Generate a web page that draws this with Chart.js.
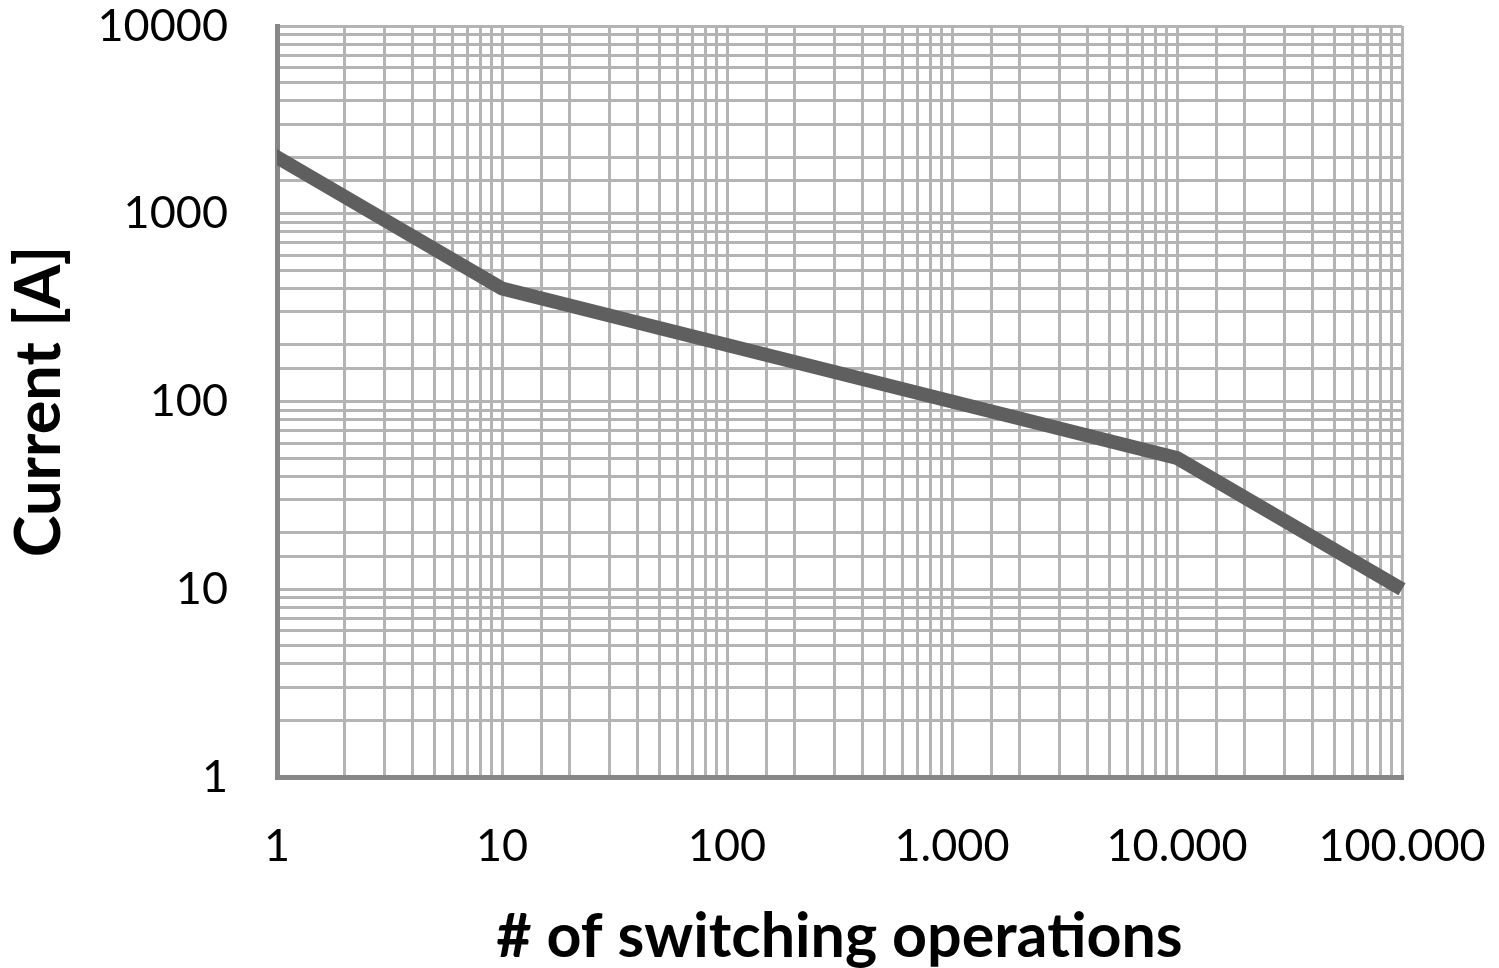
<!DOCTYPE html>
<html>
<head>
<meta charset="utf-8">
<script src="https://cdn.jsdelivr.net/npm/chart.js@4/dist/chart.umd.min.js"></script>
<style>
  html, body { margin: 0; padding: 0; background: #ffffff; }
  #wrap { position: relative; width: 1499px; height: 968px; }
</style>
</head>
<body>
<div id="wrap"><canvas id="c" width="1499" height="968"></canvas></div>
<script>
// Switching operations (x) and current in A (y); first/last points lie outside the axis range and get clipped
const switchingOps = [0.5, 1, 10, 10000, 100000, 180000];
const currentA     = [3250, 2000, 400, 50, 10, 1];
const xTickLabels = { 1: '1', 10: '10', 100: '100', 1000: '1.000', 10000: '10.000', 100000: '100.000' };
const yTickLabels = { 1: '1', 10: '10', 100: '100', 1000: '1000', 10000: '10000' };
const xTitle = '# of switching operations';
const yTitle = 'Current [A]';

const points = switchingOps.map((x, i) => ({ x: x, y: currentA[i] }));

new Chart(document.getElementById('c'), {
  type: 'line',
  data: {
    datasets: [{
      data: points,
      borderColor: '#5f5f5f',
      borderWidth: 14,
      pointRadius: 0,
      tension: 0,
      fill: false,
      clip: { left: 0, top: 0, right: 6, bottom: 0 }
    }]
  },
  options: {
    responsive: false,
    animation: false,
    layout: { padding: { left: 0, right: 97, top: 26, bottom: 0 } },
    plugins: { legend: { display: false }, tooltip: { enabled: false } },
    scales: {
      x: {
        type: 'logarithmic',
        min: 1, max: 100000,
        grid: { color: '#b4b4b4', lineWidth: 3, drawTicks: false },
        border: { color: '#878787', width: 5 },
        ticks: {
          autoSkip: false, maxRotation: 0, padding: 42,
          color: '#000000',
          font: { family: 'Lato', size: 45 },
          callback: (v) => xTickLabels[v] !== undefined ? xTickLabels[v] : ''
        },
        title: {
          display: true, text: xTitle, color: '#000000',
          font: { family: 'Lato', size: 61, weight: 'bold' },
          padding: { top: 0, bottom: -6 }
        },
        afterFit: (s) => { s.height = 968 - 777; s.paddingLeft = 0; s.paddingRight = 0; }
      },
      y: {
        type: 'logarithmic',
        min: 1, max: 10000,
        grid: { color: '#b4b4b4', lineWidth: 3, drawTicks: false },
        border: { color: '#878787', width: 5 },
        ticks: {
          autoSkip: false, padding: 49,
          color: '#000000',
          font: { family: 'Lato', size: 45 },
          callback: (v) => yTickLabels[v] !== undefined ? yTickLabels[v] : ''
        },
        title: {
          display: true, text: yTitle, color: '#000000',
          font: { family: 'Lato', size: 63, weight: 'bold' },
          padding: { top: 2, bottom: 0 }
        },
        afterFit: (s) => { s.width = 277; s.paddingTop = 0; s.paddingBottom = 0; }
      }
    }
  }
});
</script>
</body>
</html>
